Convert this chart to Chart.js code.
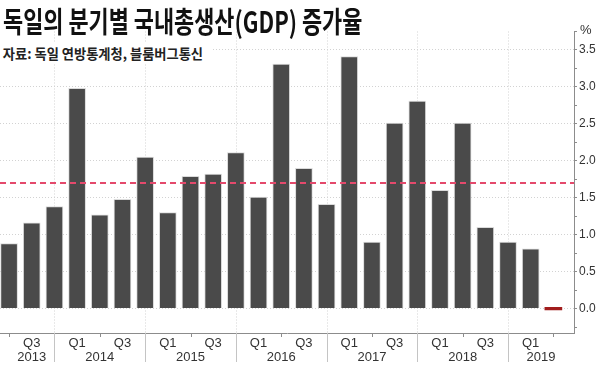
<!DOCTYPE html>
<html>
<head>
<meta charset="utf-8">
<script src="https://cdn.jsdelivr.net/npm/chart.js@4.4.1/dist/chart.umd.min.js"></script>
<style>
  html, body { margin: 0; padding: 0; background: #fff; }
  #wrap { position: relative; width: 600px; height: 367px; overflow: hidden; }
  #wrap canvas { position: absolute; left: 0; top: 0; }
  #title {
    position: absolute; left: 3px; top: 1px; z-index: 2;
    font: 700 29px "Noto Sans CJK KR", sans-serif; color: #111;
    line-height: 38px; white-space: nowrap;
    transform: scaleX(0.755); transform-origin: 0 0;
  }
  #source {
    position: absolute; left: 0; top: 43px; z-index: 2;
    padding: 0 10px 0 3px; background: #fff;
    font: 700 14px "Noto Sans CJK KR", sans-serif; color: #222;
    line-height: 20px; white-space: nowrap;
    transform: scaleX(0.945); transform-origin: 0 0;
  }
</style>
</head>
<body>
<div id="wrap">
  <canvas id="gdpChart"></canvas>
  <div id="title">독일의 분기별 국내총생산(GDP) 증가율</div>
  <div id="source">자료: 독일 연방통계청, 블룸버그통신</div>
</div>
<script>
// 분기 (2013Q2 ~ 2019Q2)
const quarters = [
  '2013Q2', '2013Q3', '2013Q4',
  '2014Q1', '2014Q2', '2014Q3', '2014Q4',
  '2015Q1', '2015Q2', '2015Q3', '2015Q4',
  '2016Q1', '2016Q2', '2016Q3', '2016Q4',
  '2017Q1', '2017Q2', '2017Q3', '2017Q4',
  '2018Q1', '2018Q2', '2018Q3', '2018Q4',
  '2019Q1', '2019Q2'
];
// 증가율 (%)
const growth = [
  0.88, 1.16, 1.38,
  2.98, 1.27, 1.48, 2.05,
  1.30, 1.79, 1.82, 2.11,
  1.51, 3.31, 1.90, 1.41,
  3.41, 0.90, 2.51, 2.81,
  1.60, 2.51, 1.10, 0.90,
  0.81, 0.00
];
const years = ['2013', '2014', '2015', '2016', '2017', '2018', '2019'];
const quarterTickLabels = ['Q1', 'Q3'];
const yTickValues = [0, 0.5, 1, 1.5, 2, 2.5, 3, 3.5];
const yTickLabels = ['0.0', '0.5', '1.0', '1.5', '2.0', '2.5', '3.0', '3.5'];
const avgGrowth = 1.7;

const X_MIN = -0.4, X_MAX = 24.91;
const GRID = '#d2d2d2', AXIS = '#8c8c8c';

const isQ = (i, q) => quarters[i].endsWith('Q' + q);
const q4Pos = years.map(y => (parseInt(y) - 2013) * 4 + 2);   // 각 연도 Q4 위치

// x 축 라벨: Q1/Q3 은 첫 줄, 연도는 둘째 줄
const xLabels = new Map();
quarters.forEach((q, i) => {
  const name = q.slice(4);
  if (quarterTickLabels.includes(name)) xLabels.set(i, [name]);
});
years.forEach((y, k) => {
  const from = Math.max(q4Pos[k] - 4, 0);
  const to = Math.min(q4Pos[k], X_MAX);
  const p = (from + to) / 2;
  const line1 = xLabels.has(p) ? xLabels.get(p)[0] : '';
  xLabels.set(p, [line1, y]);
});

const decorations = {
  id: 'decorations',
  beforeDatasetsDraw(chart) {
    const { ctx, chartArea: a, scales: { x } } = chart;
    ctx.save();
    ctx.strokeStyle = GRID;
    ctx.lineWidth = 1;
    ctx.setLineDash([1, 2]);
    q4Pos.forEach(p => {
      if (p < X_MIN || p > X_MAX) return;
      const px = Math.round(x.getPixelForValue(p)) + 0.5;
      ctx.beginPath();
      ctx.moveTo(px, a.top);
      ctx.lineTo(px, a.bottom);
      ctx.stroke();
    });
    ctx.restore();
  },
  afterDatasetsDraw(chart) {
    const { ctx, chartArea: a, scales: { y } } = chart;
    const py = y.getPixelForValue(avgGrowth);
    ctx.save();
    ctx.strokeStyle = '#e4496c';
    ctx.lineWidth = 2;
    ctx.setLineDash([6, 4]);
    ctx.beginPath();
    ctx.moveTo(a.left, py);
    ctx.lineTo(a.right, py);
    ctx.stroke();
    ctx.restore();
  },
  afterDraw(chart) {
    const { ctx, chartArea: a, scales: { x, y } } = chart;
    ctx.save();
    // 연도 구분선
    ctx.strokeStyle = '#c4c4c4';
    ctx.lineWidth = 1;
    q4Pos.forEach(p => {
      if (p < X_MIN || p > X_MAX) return;
      const px = Math.round(x.getPixelForValue(p)) + 0.5;
      ctx.beginPath();
      ctx.moveTo(px, a.bottom);
      ctx.lineTo(px, a.bottom + 29);
      ctx.stroke();
    });
    // Q2 작은 눈금
    ctx.strokeStyle = AXIS;
    quarters.forEach((q, i) => {
      if (!isQ(i, 2)) return;
      const px = Math.round(x.getPixelForValue(i)) + 0.5;
      ctx.beginPath();
      ctx.moveTo(px, a.bottom);
      ctx.lineTo(px, a.bottom + 4);
      ctx.stroke();
    });
    // 단위
    ctx.fillStyle = '#333';
    ctx.font = '13px "Liberation Sans", sans-serif';
    ctx.textBaseline = 'alphabetic';
    ctx.fillText('%', y.left + 6, a.top + 2);
    ctx.restore();
  }
};

new Chart(document.getElementById('gdpChart'), {
  type: 'bar',
  data: {
    datasets: [{
      data: quarters.map((q, i) => ({ x: i, y: growth[i] })),
      backgroundColor: quarters.map((q, i) => i === quarters.length - 1 ? '#a11d1d' : '#4a4a4a'),
      borderColor: 'rgba(215,215,215,0.9)',
      borderWidth: quarters.map((q, i) => i === quarters.length - 1 ? 0 : 1),
      minBarLength: 2.5,
      barThickness: 17
    }]
  },
  options: {
    responsive: true,
    maintainAspectRatio: false,
    animation: false,
    layout: { padding: { top: 31.5, left: 0, right: 0, bottom: 0 } },
    plugins: { legend: { display: false }, tooltip: { enabled: false } },
    scales: {
      x: {
        type: 'linear',
        offset: false,
        min: X_MIN,
        max: X_MAX,
        afterFit: s => { s.height = 34; },
        afterBuildTicks: s => {
          s.ticks = [...xLabels.keys()].sort((a, b) => a - b).map(v => ({ value: v }));
        },
        grid: { display: false, drawTicks: false },
        border: { display: true, color: AXIS, width: 1 },
        ticks: {
          autoSkip: false,
          maxRotation: 0,
          minRotation: 0,
          padding: 3,
          color: '#333',
          font: { family: '"Liberation Sans", sans-serif', size: 13, lineHeight: '14px' },
          callback: v => xLabels.get(v)
        }
      },
      y: {
        position: 'right',
        min: -0.33,
        max: 3.75,
        afterFit: s => { s.width = 26; },
        afterBuildTicks: s => {
          const t = [];
          for (let v = -0.25; v <= 3.75 + 1e-9; v += 0.25) t.push({ value: Math.round(v * 100) / 100 });
          s.ticks = t;
        },
        grid: {
          color: c => yTickValues.includes(c.tick.value) ? GRID : 'rgba(0,0,0,0)',
          tickColor: AXIS,
          tickLength: 3,
          drawTicks: true
        },
        border: { display: true, color: AXIS, width: 1, dash: [1, 2] },
        ticks: {
          autoSkip: false,
          padding: 2,
          color: '#333',
          font: { family: '"Liberation Sans", sans-serif', size: 12 },
          callback: v => {
            const k = yTickValues.indexOf(v);
            return k >= 0 ? yTickLabels[k] : '';
          }
        }
      }
    }
  },
  plugins: [decorations]
});
</script>
</body>
</html>
